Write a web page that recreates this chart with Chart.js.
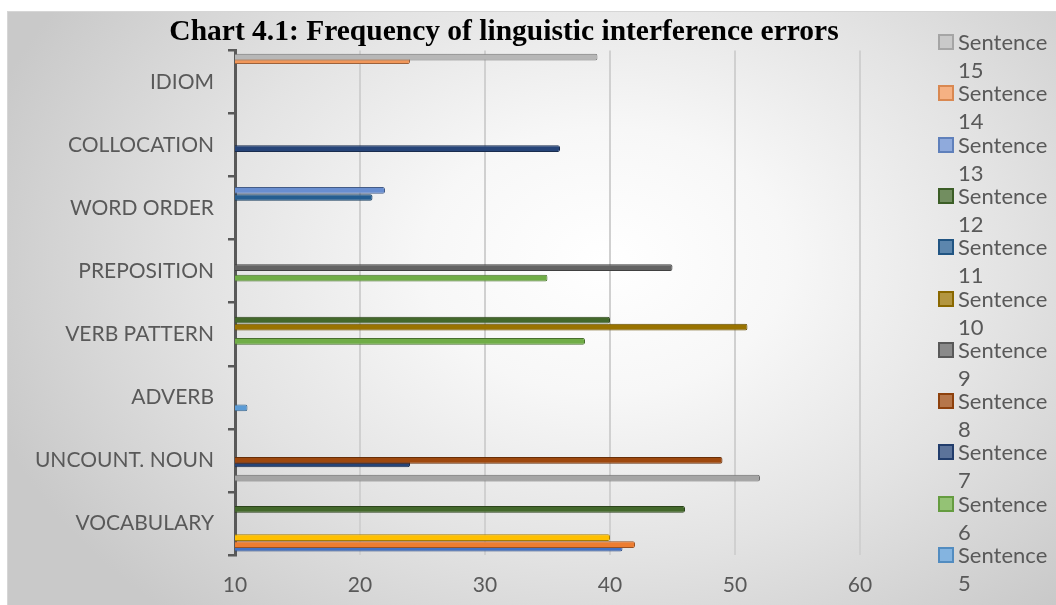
<!DOCTYPE html>
<html>
<head>
<meta charset="utf-8">
<script src="https://cdn.jsdelivr.net/npm/chart.js@4.4.1/dist/chart.umd.min.js"></script>
<style>
  html, body { margin: 0; padding: 0; background: #ffffff; width: 1056px; height: 605px; overflow: hidden; }
  #frame {
    position: absolute; left: 7px; top: 11px; width: 1049px; height: 594px;
    background: radial-gradient(ellipse 62% 80% at 57% 42%, #ffffff 0%, #f7f7f7 28%, #e3e3e3 62%, #c9c9c9 100%);
    border-top: 1px solid #d6d6d6; border-left: 1px solid #d6d6d6; box-sizing: border-box;
  }
  #chart { position: absolute; left: 0; top: 0; }
  #legend { position: absolute; left: 937px; top: 0; width: 119px; height: 598px; overflow: hidden;
    font-family: Lato, sans-serif; font-size: 22px; color: #595959; }
  .item { position: absolute; left: 0; width: 119px; line-height: 28px; }
  .sw { position: absolute; left: 1px; top: 6px; width: 12px; height: 12px; border: 2px solid; }
  .txt { position: absolute; left: 21px; top: 0; white-space: nowrap; }
</style>
</head>
<body>
<div id="frame"></div>
<canvas id="chart" width="1008" height="605"></canvas>
<div id="legend"></div>
<script>
// Error categories, listed bottom to top as on the category axis
const categories = ['VOCABULARY', 'UNCOUNT. NOUN', 'ADVERB', 'VERB PATTERN', 'PREPOSITION', 'WORD ORDER', 'COLLOCATION', 'IDIOM'];

// Error counts per sentence (null = no error above the axis minimum)
const sentence1  = [41, null, null, null, null, null, null, null];
const sentence2  = [42, null, null, null, null, null, null, null];
const sentence3  = [null, 52, null, null, null, null, null, null];
const sentence4  = [40, null, null, null, null, null, null, null];
const sentence5  = [null, null, 11, null, null, null, null, null];
const sentence6  = [null, null, null, 38, 35, null, null, null];
const sentence7  = [null, 24, null, null, null, null, 36, null];
const sentence8  = [null, 49, null, null, null, null, null, null];
const sentence9  = [null, null, null, null, 45, null, null, null];
const sentence10 = [null, null, null, 51, null, null, null, null];
const sentence11 = [null, null, null, null, null, 21, null, null];
const sentence12 = [46, null, null, 40, null, null, null, null];
const sentence13 = [null, null, null, null, null, 22, null, null];
const sentence14 = [null, null, null, null, null, null, null, 24];
const sentence15 = [null, null, null, null, null, null, null, 39];

const seriesNames = ['Sentence 1', 'Sentence 2', 'Sentence 3', 'Sentence 4', 'Sentence 5',
  'Sentence 6', 'Sentence 7', 'Sentence 8', 'Sentence 9', 'Sentence 10',
  'Sentence 11', 'Sentence 12', 'Sentence 13', 'Sentence 14', 'Sentence 15'];
const seriesValues = [sentence1, sentence2, sentence3, sentence4, sentence5, sentence6, sentence7,
  sentence8, sentence9, sentence10, sentence11, sentence12, sentence13, sentence14, sentence15];
const seriesColors = ['#4472C4', '#ED7D31', '#A5A5A5', '#FFC000', '#5B9BD5', '#70AD47', '#264478',
  '#9E480E', '#636363', '#997300', '#255E91', '#43682B', '#698ED0', '#F1975A', '#B7B7B7'];

// Value axis ticks
const xTicks = [10, 20, 30, 40, 50, 60];

function shade(hex, f) {
  const n = parseInt(hex.slice(1), 16);
  const r = (n >> 16) & 255, g = (n >> 8) & 255, b = n & 255;
  const m = c => Math.max(0, Math.min(255, Math.round(f < 0 ? c * (1 + f) : c + (255 - c) * f)));
  return 'rgb(' + m(r) + ',' + m(g) + ',' + m(b) + ')';
}

// Highest sentence first so Sentence 1 sits at the bottom of each group
const datasets = [];
for (let i = seriesNames.length - 1; i >= 0; i--) {
  datasets.push({
    label: seriesNames[i],
    data: seriesValues[i],
    backgroundColor: seriesColors[i],
    borderColor: shade(seriesColors[i], -0.35),
    borderWidth: 1,
    borderSkipped: false,
    borderRadius: 2,
    categoryPercentage: 0.84,
    barPercentage: 1.9
  });
}

const labelFont = { family: 'Lato', size: 21 };

new Chart(document.getElementById('chart'), {
  type: 'bar',
  data: { labels: categories, datasets },
  options: {
    indexAxis: 'y',
    responsive: false,
    animation: false,
    layout: { padding: 0 },
    plugins: {
      legend: { display: false },
      tooltip: { enabled: false },
      title: {
        display: true,
        text: 'Chart 4.1: Frequency of linguistic interference errors',
        color: '#000000',
        font: { family: 'Liberation Serif', size: 29.5, weight: 'bold' },
        padding: { top: 15, bottom: 0 }
      }
    },
    scales: {
      x: {
        min: xTicks[0],
        max: xTicks[xTicks.length - 1],
        afterBuildTicks: s => { s.ticks = xTicks.map(v => ({ value: v })); },
        ticks: { color: '#595959', font: labelFont, padding: 18 },
        grid: { color: '#d0d0d0', lineWidth: 2, drawTicks: false },
        border: { display: false },
        afterFit: s => { s.height = 50; }
      },
      y: {
        reverse: true,
        offset: true,
        ticks: { color: '#595959', font: labelFont, padding: 14 },
        grid: { offset: true, drawOnChartArea: false, drawTicks: true, tickLength: 7, color: '#595959', lineWidth: 2.5 },
        border: { display: true, color: '#595959', width: 3 },
        afterFit: s => { s.width = 235; }
      },
      // empty right-hand strip that leaves room for the legend column
      yRight: {
        type: 'category',
        position: 'right',
        ticks: { display: false },
        grid: { display: false },
        border: { display: false },
        afterFit: s => { s.width = 148; }
      }
    }
  }
});

// Legend: Sentence 15 at the top, each name wrapped onto two lines
const legend = document.getElementById('legend');
for (let k = 0; k < seriesNames.length; k++) {
  const i = seriesNames.length - 1 - k;
  const parts = seriesNames[i].split(' ');
  const item = document.createElement('div');
  item.className = 'item';
  item.style.top = (28 + k * 51.3) + 'px';
  const sw = document.createElement('div');
  sw.className = 'sw';
  sw.style.background = shade(seriesColors[i], 0.25);
  sw.style.borderColor = shade(seriesColors[i], -0.1);
  const txt = document.createElement('div');
  txt.className = 'txt';
  txt.innerHTML = parts[0] + '<br>' + parts[1];
  item.appendChild(sw);
  item.appendChild(txt);
  legend.appendChild(item);
}
</script>
</body>
</html>
